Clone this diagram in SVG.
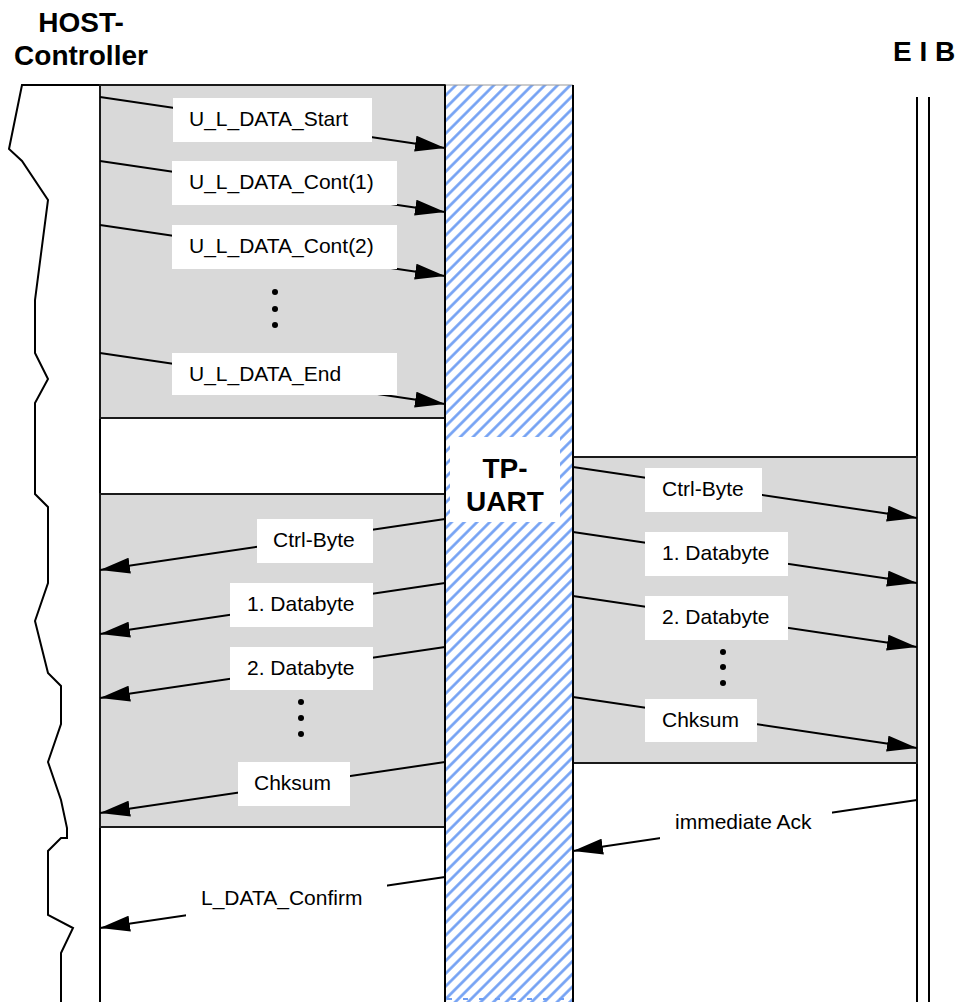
<svg xmlns="http://www.w3.org/2000/svg" width="959" height="1002" viewBox="0 0 959 1002">
<style>
.lbl{font-family:"Liberation Sans",Arial,sans-serif;font-size:21px;fill:#000}
.ttl{font-family:"Liberation Sans",Arial,sans-serif;font-size:28px;font-weight:bold;fill:#000}
.box{fill:#d9d9d9;stroke:#1a1a1a;stroke-width:2}
.lb{fill:#fff;stroke:none}
.conn line{stroke:#000;stroke-width:2;marker-end:url(#ah)}
.dot{fill:#000}
</style>
<defs>
<marker id="ah" viewBox="0 0 30 16" refX="30" refY="8" markerWidth="30" markerHeight="16" markerUnits="userSpaceOnUse" orient="auto"><path d="M0,0 L30,8 L0,16 z" fill="#000"/></marker>
<pattern id="hatch" patternUnits="userSpaceOnUse" width="9" height="9" patternTransform="rotate(-45)"><rect width="9" height="9" fill="#fff"/><line x1="0" y1="4.5" x2="9" y2="4.5" stroke="#6f9ef3" stroke-width="2.6"/></pattern>
</defs>
<rect width="959" height="1002" fill="#fff"/>

<g id="host">
<text class="ttl" x="81" y="32" text-anchor="middle">HOST-</text>
<text class="ttl" x="81" y="65" text-anchor="middle">Controller</text>
<path d="M100,85 L22,85 L9,149 L22,161 L48,200 L35,300 L35,353 L48,379 L35,403 L35,494 L48,507 L48,583 L35,621 L48,673 L61,686 L61,724 L48,762 L61,800 L67,828 L67,838 L61,838 L48,851 L48,915 L73,928 L61,953 L61,1002" fill="none" stroke="#000" stroke-width="2"/>
<line x1="100" y1="85" x2="100" y2="1002" stroke="#000" stroke-width="2"/>
</g>

<g id="eib">
<text class="ttl" x="893" y="61">E I B</text>
<line x1="917" y1="97" x2="917" y2="1002" stroke="#000" stroke-width="2"/>
<line x1="929" y1="97" x2="929" y2="1002" stroke="#000" stroke-width="2"/>
</g>

<g id="box-send">
<rect class="box" x="100" y="85" width="345" height="333"/>
</g>
<g id="box-echo">
<rect class="box" x="100" y="494" width="345" height="333"/>
</g>
<g id="box-bus">
<rect class="box" x="573" y="457" width="344" height="306"/>
</g>

<g id="tpuart">
<rect x="445" y="85" width="128" height="917" fill="url(#hatch)"/>
<line x1="447" y1="999" x2="571" y2="999" stroke="#6f9ef3" stroke-width="2" stroke-dasharray="5,11"/>
<line x1="445" y1="85" x2="573" y2="85" stroke="#999" stroke-width="1"/>
<line x1="445" y1="85" x2="445" y2="1002" stroke="#000" stroke-width="2"/>
<line x1="573" y1="85" x2="573" y2="1002" stroke="#000" stroke-width="2"/>
<rect x="450" y="437" width="110" height="85" fill="#fff"/>
<text class="ttl" x="505" y="478" text-anchor="middle">TP-</text>
<text class="ttl" x="505" y="511" text-anchor="middle">UART</text>
</g>

<g id="connectors" class="conn">
<line x1="100" y1="97" x2="445" y2="148"/>
<line x1="100" y1="161" x2="445" y2="212"/>
<line x1="100" y1="225" x2="445" y2="276"/>
<line x1="100" y1="353" x2="445" y2="404"/>
<line x1="573" y1="467" x2="917" y2="518"/>
<line x1="573" y1="532" x2="917" y2="583"/>
<line x1="573" y1="596" x2="917" y2="647"/>
<line x1="573" y1="697" x2="917" y2="748"/>
<line x1="445" y1="519" x2="100" y2="570"/>
<line x1="445" y1="583" x2="100" y2="634"/>
<line x1="445" y1="647" x2="100" y2="698"/>
<line x1="445" y1="762" x2="100" y2="813"/>
<line x1="917" y1="800" x2="573" y2="851"/>
<line x1="445" y1="877" x2="100" y2="928"/>
</g>

<g id="labels">
<rect class="lb" x="173" y="98" width="199" height="44"/>
<text class="lbl" x="189" y="126">U_L_DATA_Start</text>
<rect class="lb" x="172" y="161" width="225" height="44"/>
<text class="lbl" x="189" y="189">U_L_DATA_Cont(1)</text>
<rect class="lb" x="172" y="225" width="225" height="44"/>
<text class="lbl" x="189" y="253">U_L_DATA_Cont(2)</text>
<circle class="dot" cx="275" cy="292" r="3"/>
<circle class="dot" cx="275" cy="309" r="3"/>
<circle class="dot" cx="275" cy="325" r="3"/>
<rect class="lb" x="172" y="353" width="225" height="42"/>
<text class="lbl" x="189" y="381">U_L_DATA_End</text>

<rect class="lb" x="645" y="468" width="117" height="44"/>
<text class="lbl" x="662" y="496">Ctrl-Byte</text>
<rect class="lb" x="645" y="532" width="143" height="44"/>
<text class="lbl" x="662" y="560">1. Databyte</text>
<rect class="lb" x="645" y="596" width="143" height="44"/>
<text class="lbl" x="662" y="624">2. Databyte</text>
<circle class="dot" cx="723" cy="652" r="3"/>
<circle class="dot" cx="723" cy="667" r="3"/>
<circle class="dot" cx="723" cy="683" r="3"/>
<rect class="lb" x="645" y="699" width="112" height="43"/>
<text class="lbl" x="662" y="727">Chksum</text>

<rect class="lb" x="257" y="519" width="116" height="44"/>
<text class="lbl" x="273" y="547">Ctrl-Byte</text>
<rect class="lb" x="230" y="583" width="143" height="44"/>
<text class="lbl" x="247" y="611">1. Databyte</text>
<rect class="lb" x="230" y="647" width="143" height="43"/>
<text class="lbl" x="247" y="675">2. Databyte</text>
<circle class="dot" cx="301" cy="702" r="3"/>
<circle class="dot" cx="301" cy="718" r="3"/>
<circle class="dot" cx="301" cy="734" r="3"/>
<rect class="lb" x="238" y="762" width="112" height="44"/>
<text class="lbl" x="254" y="790">Chksum</text>

<rect class="lb" x="660" y="801" width="172" height="44"/>
<text class="lbl" x="675" y="829">immediate Ack</text>
<rect class="lb" x="186" y="877" width="201" height="44"/>
<text class="lbl" x="201" y="905">L_DATA_Confirm</text>
</g>
</svg>
